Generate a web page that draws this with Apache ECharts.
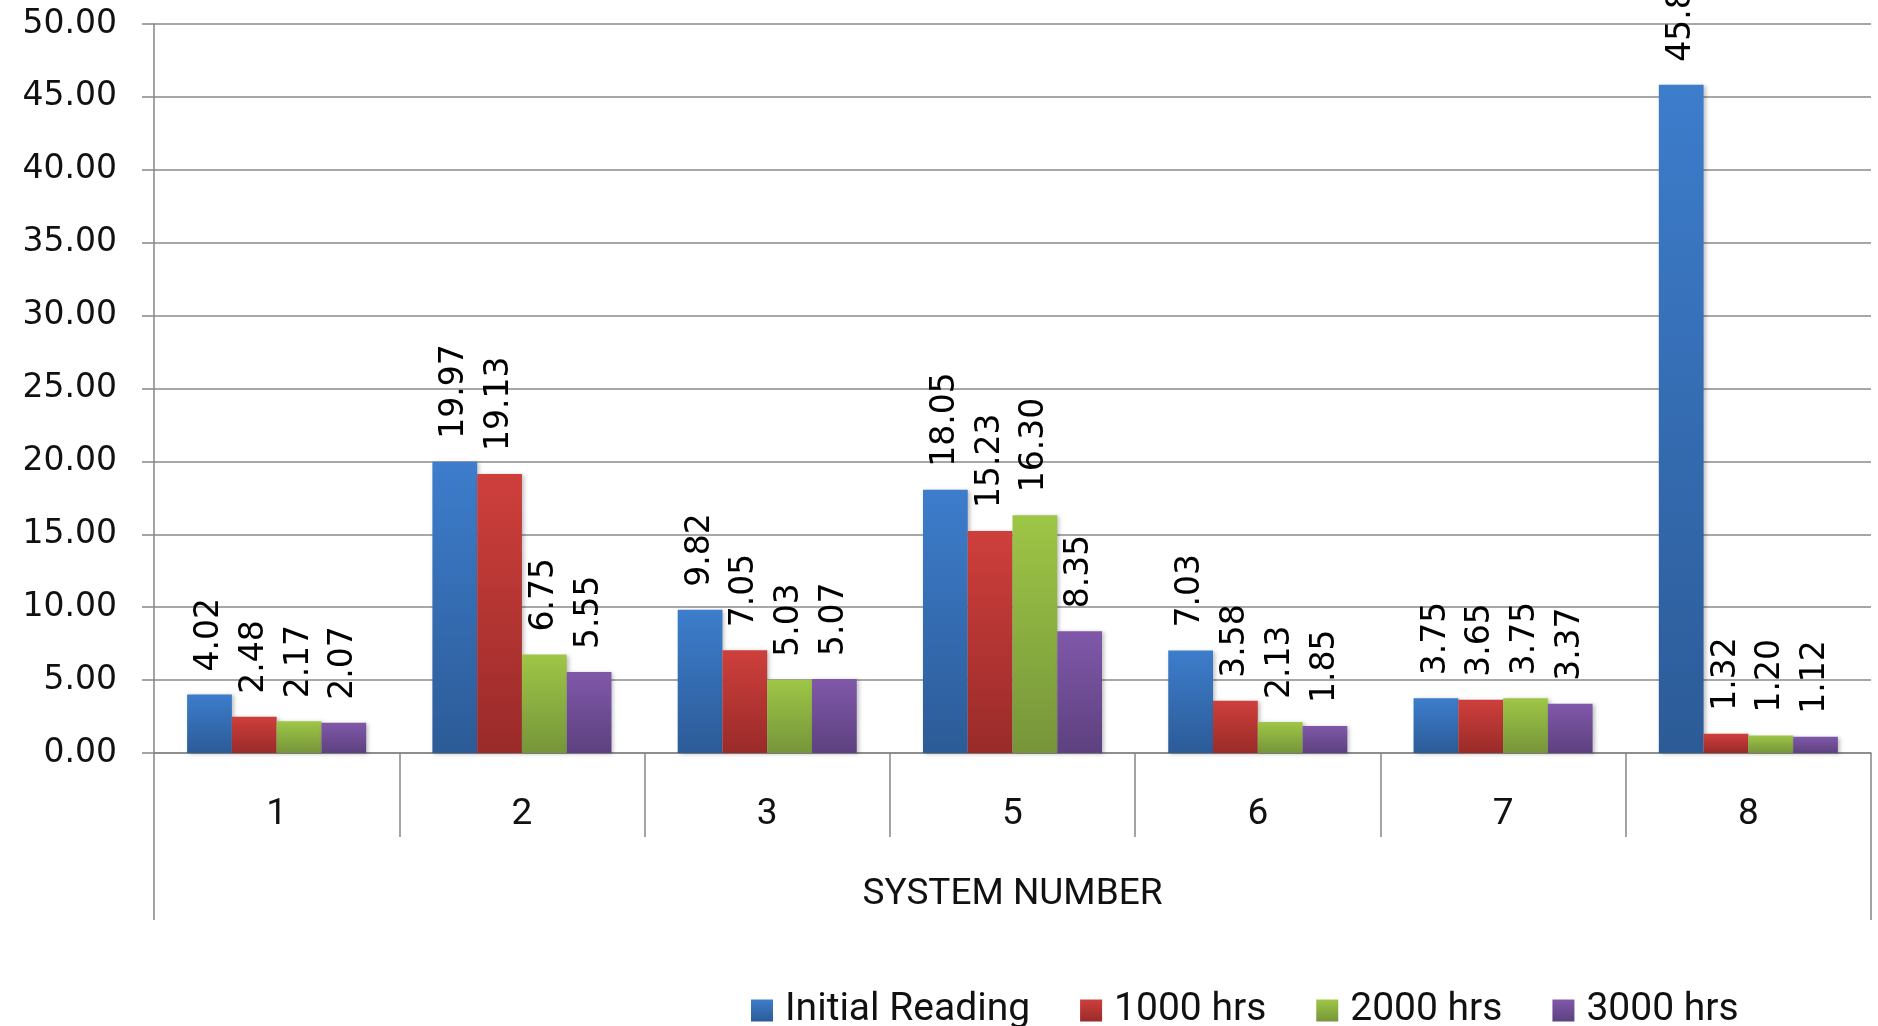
<!DOCTYPE html>
<html>
<head>
<meta charset="utf-8">
<title>System readings</title>
<script src="https://cdn.jsdelivr.net/npm/echarts@6/dist/echarts.min.js"></script>
<style>
  html, body { margin: 0; padding: 0; background: #ffffff; }
  #chart { width: 1878px; height: 1026px; }
</style>
</head>
<body>
<div id="chart"></div>
<script>
// System numbers on the category axis
const systems = ['1', '2', '3', '5', '6', '7', '8'];

// Readings per system at each inspection point
const initialReading = [4.02, 19.97, 9.82, 18.05, 7.03, 3.75, 45.84];
const hrs1000 = [2.48, 19.13, 7.05, 15.23, 3.58, 3.65, 1.32];
const hrs2000 = [2.17, 6.75, 5.03, 16.30, 2.13, 3.75, 1.20];
const hrs3000 = [2.07, 5.55, 5.07, 8.35, 1.85, 3.37, 1.12];

const seriesNames = ['Initial Reading', '1000 hrs', '2000 hrs', '3000 hrs'];
const axisTitle = 'SYSTEM NUMBER';

const axisGray = '#868686';
const numFont = 'DejaVu Sans';
const textFont = 'Roboto';

function grad(top, bottom) {
  return new echarts.graphic.LinearGradient(0, 0, 0, 1, [
    { offset: 0, color: top },
    { offset: 1, color: bottom }
  ]);
}

const palettes = [
  ['#3D7DCC', '#2C5B97'],
  ['#CE3F3C', '#992B29'],
  ['#9EC646', '#76953A'],
  ['#8058AA', '#5D417F']
];

function barSeries(name, data, idx) {
  return {
    name: name,
    type: 'bar',
    data: data,
    barGap: '0%',
    barCategoryGap: '27%',
    itemStyle: {
      color: grad(palettes[idx][0], palettes[idx][1]),
      shadowColor: 'rgba(0,0,0,0.25)',
      shadowBlur: 4,
      shadowOffsetX: 2,
      shadowOffsetY: 1
    },
    label: {
      show: true,
      position: 'top',
      rotate: 90,
      align: 'left',
      verticalAlign: 'middle',
      distance: 23,
      fontFamily: numFont,
      fontSize: 33,
      color: '#000',
      formatter: p => p.value.toFixed(2)
    }
  };
}

const chart = echarts.init(document.getElementById('chart'), null, { renderer: 'canvas' });

chart.setOption({
  backgroundColor: '#ffffff',
  animation: false,
  grid: [
    { left: 154, right: 7, top: 24, bottom: 273, containLabel: false },
    { left: 154, right: 7, top: 24, bottom: 273, containLabel: false }
  ],
  legend: {
    data: seriesNames,
    left: 751,
    top: 991,
    padding: 0,
    itemGap: 50,
    itemWidth: 22,
    itemHeight: 22,
    icon: 'rect',
    textStyle: {
      fontFamily: textFont,
      fontSize: 39,
      color: '#111',
      padding: [0, 0, 0, 7]
    }
  },
  xAxis: [
    {
      type: 'category',
      gridIndex: 0,
      data: systems,
      boundaryGap: true,
      axisLine: { show: true, lineStyle: { color: axisGray, width: 1.5 } },
      axisTick: { show: true, interval: 0, length: 84, lineStyle: { color: axisGray, width: 1.5 } },
      axisLabel: { margin: 43, fontFamily: textFont, fontSize: 37, color: '#111' },
      splitLine: { show: false }
    },
    {
      // outer level of the category axis: a single group spanning all systems
      type: 'category',
      gridIndex: 1,
      data: [axisTitle],
      boundaryGap: true,
      position: 'bottom',
      axisLine: { show: false },
      axisTick: { show: true, interval: 0, length: 167, lineStyle: { color: axisGray, width: 1.5 } },
      axisLabel: { margin: 123, fontFamily: textFont, fontSize: 37, color: '#111' },
      splitLine: { show: false }
    }
  ],
  yAxis: [
    {
      type: 'value',
      gridIndex: 0,
      min: 0,
      max: 50,
      interval: 5,
      axisLine: { show: true, lineStyle: { color: axisGray, width: 1.5 } },
      axisTick: { show: true, length: 12, lineStyle: { color: axisGray, width: 1.5 } },
      axisLabel: {
        margin: 37,
        fontFamily: numFont,
        fontSize: 33,
        color: '#111',
        formatter: v => v.toFixed(2)
      },
      splitLine: { show: true, lineStyle: { color: '#8a8a8a', width: 1.5 } }
    },
    {
      type: 'value',
      gridIndex: 1,
      min: 0,
      max: 50,
      show: false
    }
  ],
  series: [
    barSeries(seriesNames[0], initialReading, 0),
    barSeries(seriesNames[1], hrs1000, 1),
    barSeries(seriesNames[2], hrs2000, 2),
    barSeries(seriesNames[3], hrs3000, 3)
  ]
});
</script>
</body>
</html>
